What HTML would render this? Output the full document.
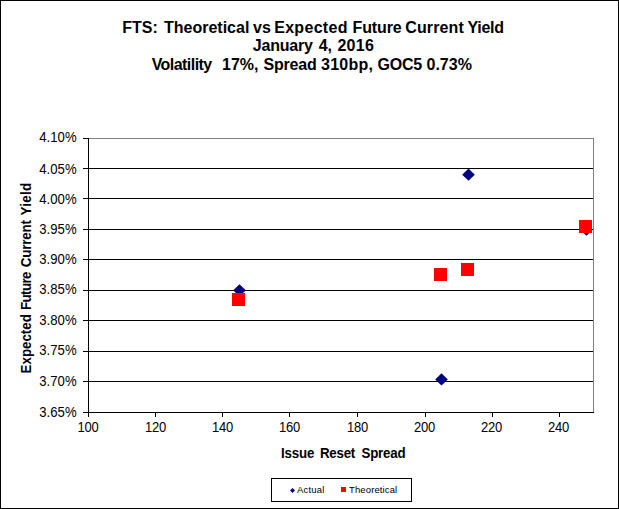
<!DOCTYPE html>
<html>
<head>
<meta charset="utf-8">
<style>
html,body{margin:0;padding:0;background:#fff;}
body{width:619px;height:509px;overflow:hidden;position:relative;font-family:"Liberation Sans",sans-serif;}
svg{position:absolute;left:0;top:0;display:block;}
text{font-family:"Liberation Sans",sans-serif;fill:#000;}
.tw{font-size:16px;font-weight:bold;}
.ax{font-size:13.15px;}
.axx{font-size:13px;letter-spacing:-0.2px;}
.axb{font-size:13.33px;font-weight:bold;}
.lg{font-size:9.5px;}
</style>
</head>
<body>
<svg width="619" height="509" viewBox="0 0 619 509">
  <rect x="0" y="0" width="619" height="509" fill="#fff"/>
  <!-- outer border -->
  <rect x="0.5" y="0.5" width="618" height="508" fill="none" stroke="#000" stroke-width="1" shape-rendering="crispEdges"/>

  <!-- title -->
  <g id="title">
  <text class="tw" x="122.2" y="32.8" letter-spacing="0">FTS:</text>
  <text class="tw" x="164.0" y="32.8" letter-spacing="0">Theoretical</text>
  <text class="tw" x="253.0" y="32.8" letter-spacing="0">vs</text>
  <text class="tw" x="274.2" y="32.8" letter-spacing="0.3">Expected</text>
  <text class="tw" x="352.6" y="32.8" letter-spacing="-0.15">Future</text>
  <text class="tw" x="405.2" y="32.8" letter-spacing="0.15">Current</text>
  <text class="tw" x="467.6" y="32.8" letter-spacing="-0.3">Yield</text>
  <text class="tw" x="252.8" y="51" letter-spacing="-0.2">January</text>
  <text class="tw" x="318.7" y="51" letter-spacing="0">4,</text>
  <text class="tw" x="337.4" y="51" letter-spacing="0.3">2016</text>
  <text class="tw" x="151.7" y="70.3" letter-spacing="-0.55">Volatility</text>
  <text class="tw" x="222.0" y="70.3" letter-spacing="0">17%,</text>
  <text class="tw" x="263.5" y="70.3" letter-spacing="-0.2">Spread</text>
  <text class="tw" x="321.0" y="70.3" letter-spacing="0.25">310bp,</text>
  <text class="tw" x="377.6" y="70.3" letter-spacing="-0.3">GOC5</text>
  <text class="tw" x="426.5" y="70.3" letter-spacing="0">0.73%</text>
  </g>

  <!-- plot area -->
  <g shape-rendering="crispEdges" stroke-width="1" fill="none">
    <!-- gray top/right border -->
    <path d="M88 138.5H594M593.5 138V413" stroke="#808080"/>
    <!-- gridlines -->
    <g stroke="#000">
      <path d="M88 168.5H593"/>
      <path d="M88 198.5H593"/>
      <path d="M88 229.5H593"/>
      <path d="M88 259.5H593"/>
      <path d="M88 290.5H593"/>
      <path d="M88 320.5H593"/>
      <path d="M88 351.5H593"/>
      <path d="M88 381.5H593"/>
      <!-- axes -->
      <path d="M88.5 138V417"/>
      <path d="M83 412.5H594"/>
      <!-- y ticks -->
      <path d="M83 138.5H88M83 168.5H88M83 198.5H88M83 229.5H88M83 259.5H88M83 290.5H88M83 320.5H88M83 351.5H88M83 381.5H88"/>
      <!-- x ticks -->
      <path d="M155.5 412V417M222.5 412V417M289.5 412V417M357.5 412V417M425.5 412V417M492.5 412V417M559.5 412V417"/>
    </g>
  </g>

  <!-- y labels -->
  <g class="ax" text-anchor="end">
    <text transform="translate(76.6,142.4) scale(1,1.06)">4.10%</text>
    <text transform="translate(76.6,173.5) scale(1,1.06)">4.05%</text>
    <text transform="translate(76.6,203.5) scale(1,1.06)">4.00%</text>
    <text transform="translate(76.6,234.3) scale(1,1.06)">3.95%</text>
    <text transform="translate(76.6,264.2) scale(1,1.06)">3.90%</text>
    <text transform="translate(76.6,294.4) scale(1,1.06)">3.85%</text>
    <text transform="translate(76.6,325.2) scale(1,1.06)">3.80%</text>
    <text transform="translate(76.6,355.4) scale(1,1.06)">3.75%</text>
    <text transform="translate(76.6,386.2) scale(1,1.06)">3.70%</text>
    <text transform="translate(76.6,416.5) scale(1,1.06)">3.65%</text>
  </g>
  <!-- x labels -->
  <g class="axx" text-anchor="middle">
    <text transform="translate(88.0,432) scale(1,1.07)">100</text>
    <text transform="translate(155.5,432) scale(1,1.07)">120</text>
    <text transform="translate(222.5,432) scale(1,1.07)">140</text>
    <text transform="translate(289.5,432) scale(1,1.07)">160</text>
    <text transform="translate(357.5,432) scale(1,1.07)">180</text>
    <text transform="translate(424.5,432) scale(1,1.07)">200</text>
    <text transform="translate(491.5,432) scale(1,1.07)">220</text>
    <text transform="translate(558.5,432) scale(1,1.07)">240</text>
  </g>

  <!-- axis titles -->
  <text class="axb" transform="translate(281.0,458.3) scale(1,1.07)" letter-spacing="-0.15">Issue</text>
  <text class="axb" transform="translate(320.0,458.3) scale(1,1.07)" letter-spacing="-0.25">Reset</text>
  <text class="axb" transform="translate(361.5,458.3) scale(1,1.07)" letter-spacing="-0.2">Spread</text>
  <text class="axb" transform="translate(31,373.4) rotate(-90) scale(1,1.09)" letter-spacing="0">Expected</text>
  <text class="axb" transform="translate(31,310.0) rotate(-90) scale(1,1.09)" letter-spacing="-0.6">Future</text>
  <text class="axb" transform="translate(31,267.3) rotate(-90) scale(1,1.09)" letter-spacing="-0.13">Current</text>
  <text class="axb" transform="translate(31,215.6) rotate(-90) scale(1,1.09)" letter-spacing="0.35">Yield</text>

  <!-- data: actual (diamonds) -->
  <g fill="#000080">
    <path d="M239.5 284.2L245.8 290.3L239.5 296.4L233.2 290.3Z"/>
    <path d="M468.5 168.6L474.8 174.7L468.5 180.8L462.2 174.7Z"/>
    <path d="M441.5 373.3L447.8 379.4L441.5 385.5L435.2 379.4Z"/>
    <path d="M586.5 223.6L592.8 229.7L586.5 235.8L580.2 229.7Z"/>
  </g>
  <!-- data: theoretical (squares) -->
  <g fill="#ff0000" shape-rendering="crispEdges">
    <rect x="232" y="293" width="13" height="13"/>
    <rect x="434" y="268" width="13" height="13"/>
    <rect x="461" y="263" width="13" height="13"/>
    <rect x="579" y="220" width="13" height="13"/>
  </g>

  <!-- legend -->
  <rect x="271.5" y="478.5" width="140" height="23" fill="#fff" stroke="#000" stroke-width="1" shape-rendering="crispEdges"/>
  <path d="M292.5 488L295 490.5L292.5 493L290 490.5Z" fill="#000080"/>
  <text class="lg" x="297" y="493" letter-spacing="0.18">Actual</text>
  <rect x="341" y="487" width="5" height="5" fill="#ff0000" shape-rendering="crispEdges"/>
  <text class="lg" x="349" y="493" letter-spacing="0.12">Theoretical</text>
</svg>
</body>
</html>
